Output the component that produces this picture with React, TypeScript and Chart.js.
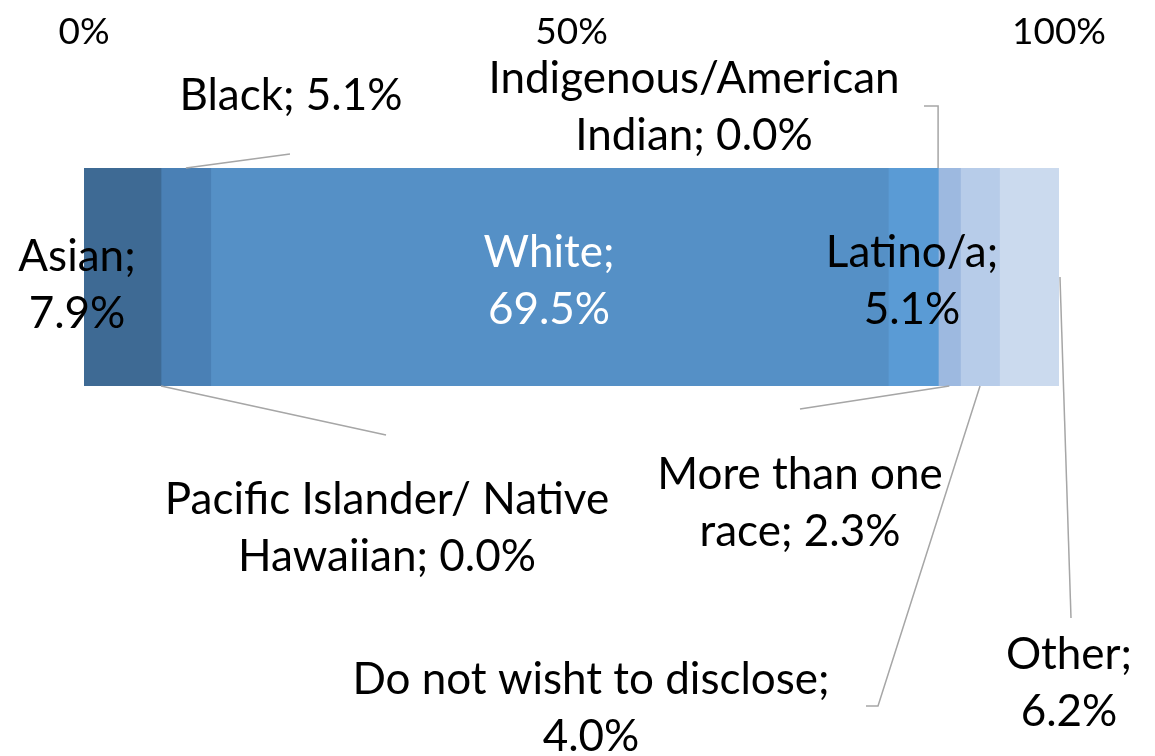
import React, { useEffect, useRef } from 'react';
import { Chart, registerables } from 'chart.js';
Chart.register(...registerables);

const categories = [
  'Asian',
  'Pacific Islander/ Native Hawaiian',
  'Black',
  'White',
  'Latino/a',
  'Indigenous/American Indian',
  'More than one race',
  'Do not wisht to disclose',
  'Other',
];
const values = [7.9, 0.0, 5.1, 69.5, 5.1, 0.0, 2.3, 4.0, 6.2];
const colors = ['#3e6a94', '#4a80b5', '#4a80b5', '#5590c6', '#5a9bd5', '#5a9bd5', '#9db9e0', '#b7cce9', '#cbdaee'];
const tickValues = [0, 50, 100];

const FONT = 'Lato, "Open Sans", sans-serif';
const LABEL_SIZE = 44;
const LINE_H = 57;

type Pt = [number | null, number];
type LabelLayout = {
  cx: number;
  cy: number;
  firstLineWords: number;
  color: string;
  anchor: 'top' | 'bottom' | 'right' | 'none';
  path?: Pt[];
};

const labelLayouts: LabelLayout[] = [
  { cx: 77, cy: 285, firstLineWords: 1, color: '#000', anchor: 'none' },
  { cx: 387, cy: 528, firstLineWords: 3, color: '#000', anchor: 'bottom', path: [[386, 435]] },
  { cx: 291, cy: 96, firstLineWords: 99, color: '#000', anchor: 'top', path: [[290, 154]] },
  { cx: 549, cy: 281, firstLineWords: 1, color: '#fff', anchor: 'none' },
  { cx: 912, cy: 281, firstLineWords: 1, color: '#000', anchor: 'none' },
  { cx: 694, cy: 107, firstLineWords: 1, color: '#000', anchor: 'top', path: [[null, 106], [924, 106]] },
  { cx: 800, cy: 503, firstLineWords: 3, color: '#000', anchor: 'bottom', path: [[800, 409]] },
  { cx: 591, cy: 708, firstLineWords: 5, color: '#000', anchor: 'bottom', path: [[878, 706], [866, 706]] },
  { cx: 1069, cy: 683, firstLineWords: 1, color: '#000', anchor: 'right', path: [[1071, 618]] },
];

const labelPlugin = {
  id: 'segLabels',
  afterDatasetsDraw(chart: any) {
    const ctx = chart.ctx;
    const xs = chart.scales.x;
    let cum = 0;
    ctx.save();
    values.forEach((v, i) => {
      const lay = labelLayouts[i];
      const el = chart.getDatasetMeta(i).data[0];
      const x0 = xs.getPixelForValue(cum);
      const x1 = xs.getPixelForValue(cum + v);
      cum += v;
      const top = el.y - el.height / 2;
      const bottom = el.y + el.height / 2;
      let ax = (x0 + x1) / 2;
      let ay = el.y;
      if (lay.anchor === 'top') ay = top;
      else if (lay.anchor === 'bottom') ay = bottom;
      else if (lay.anchor === 'right') { ax = x1; ay = el.y; }
      if (lay.anchor !== 'none' && lay.path) {
        ctx.beginPath();
        ctx.strokeStyle = '#a6a6a6';
        ctx.lineWidth = 1.5;
        ctx.moveTo(ax, ay);
        lay.path.forEach(([px, py]) => ctx.lineTo(px === null ? ax : px, py));
        ctx.stroke();
      }
      const text = `${categories[i]}; ${v.toFixed(1)}%`;
      const words = text.split(' ');
      const lines = [words.slice(0, lay.firstLineWords).join(' ')];
      if (words.length > lay.firstLineWords) lines.push(words.slice(lay.firstLineWords).join(' '));
      ctx.font = `${LABEL_SIZE}px ${FONT}`;
      ctx.fillStyle = lay.color;
      ctx.textAlign = 'center';
      ctx.textBaseline = 'middle';
      const startY = lay.cy - ((lines.length - 1) * LINE_H) / 2;
      lines.forEach((ln, k) => ctx.fillText(ln, lay.cx, startY + k * LINE_H));
    });
    ctx.restore();
  },
};

export default function App() {
  const ref = useRef<HTMLCanvasElement>(null);
  useEffect(() => {
    if (!ref.current) return;
    const chart = new Chart(ref.current, {
      type: 'bar',
      data: {
        labels: ['Race'],
        datasets: categories.map((c, i) => ({
          label: c,
          data: [values[i]],
          backgroundColor: colors[i],
          borderWidth: 0,
          categoryPercentage: 1,
          barPercentage: 1,
        })),
      },
      options: {
        animation: false,
        responsive: false,
        indexAxis: 'y',
        layout: { padding: { left: 84, right: 96, top: 8, bottom: 370 } },
        plugins: { legend: { display: false }, tooltip: { enabled: false } },
        scales: {
          x: {
            stacked: true,
            position: 'top',
            min: 0,
            max: 100,
            afterBuildTicks: (s: any) => {
              s.ticks = tickValues.map((v) => ({ value: v }));
            },
            afterFit: (s: any) => {
              s.paddingLeft = 0;
              s.paddingRight = 0;
              s.paddingTop = 0;
              s.paddingBottom = 0;
              s.height = 160;
            },
            ticks: {
              callback: (v: any) => `${v}%`,
              font: { family: FONT, size: 37 },
              color: '#000',
              padding: 114,
              maxRotation: 0,
            },
            grid: { display: false, drawTicks: false },
            border: { display: false },
          },
          y: { stacked: true, display: false },
        },
      } as any,
      plugins: [labelPlugin],
    });
    return () => chart.destroy();
  }, []);
  return (
    <div style={{ position: 'absolute', left: 0, top: 0, width: 1155, height: 756, background: '#fff' }}>
      <canvas ref={ref} width={1155} height={756} style={{ display: 'block' }} />
    </div>
  );
}
